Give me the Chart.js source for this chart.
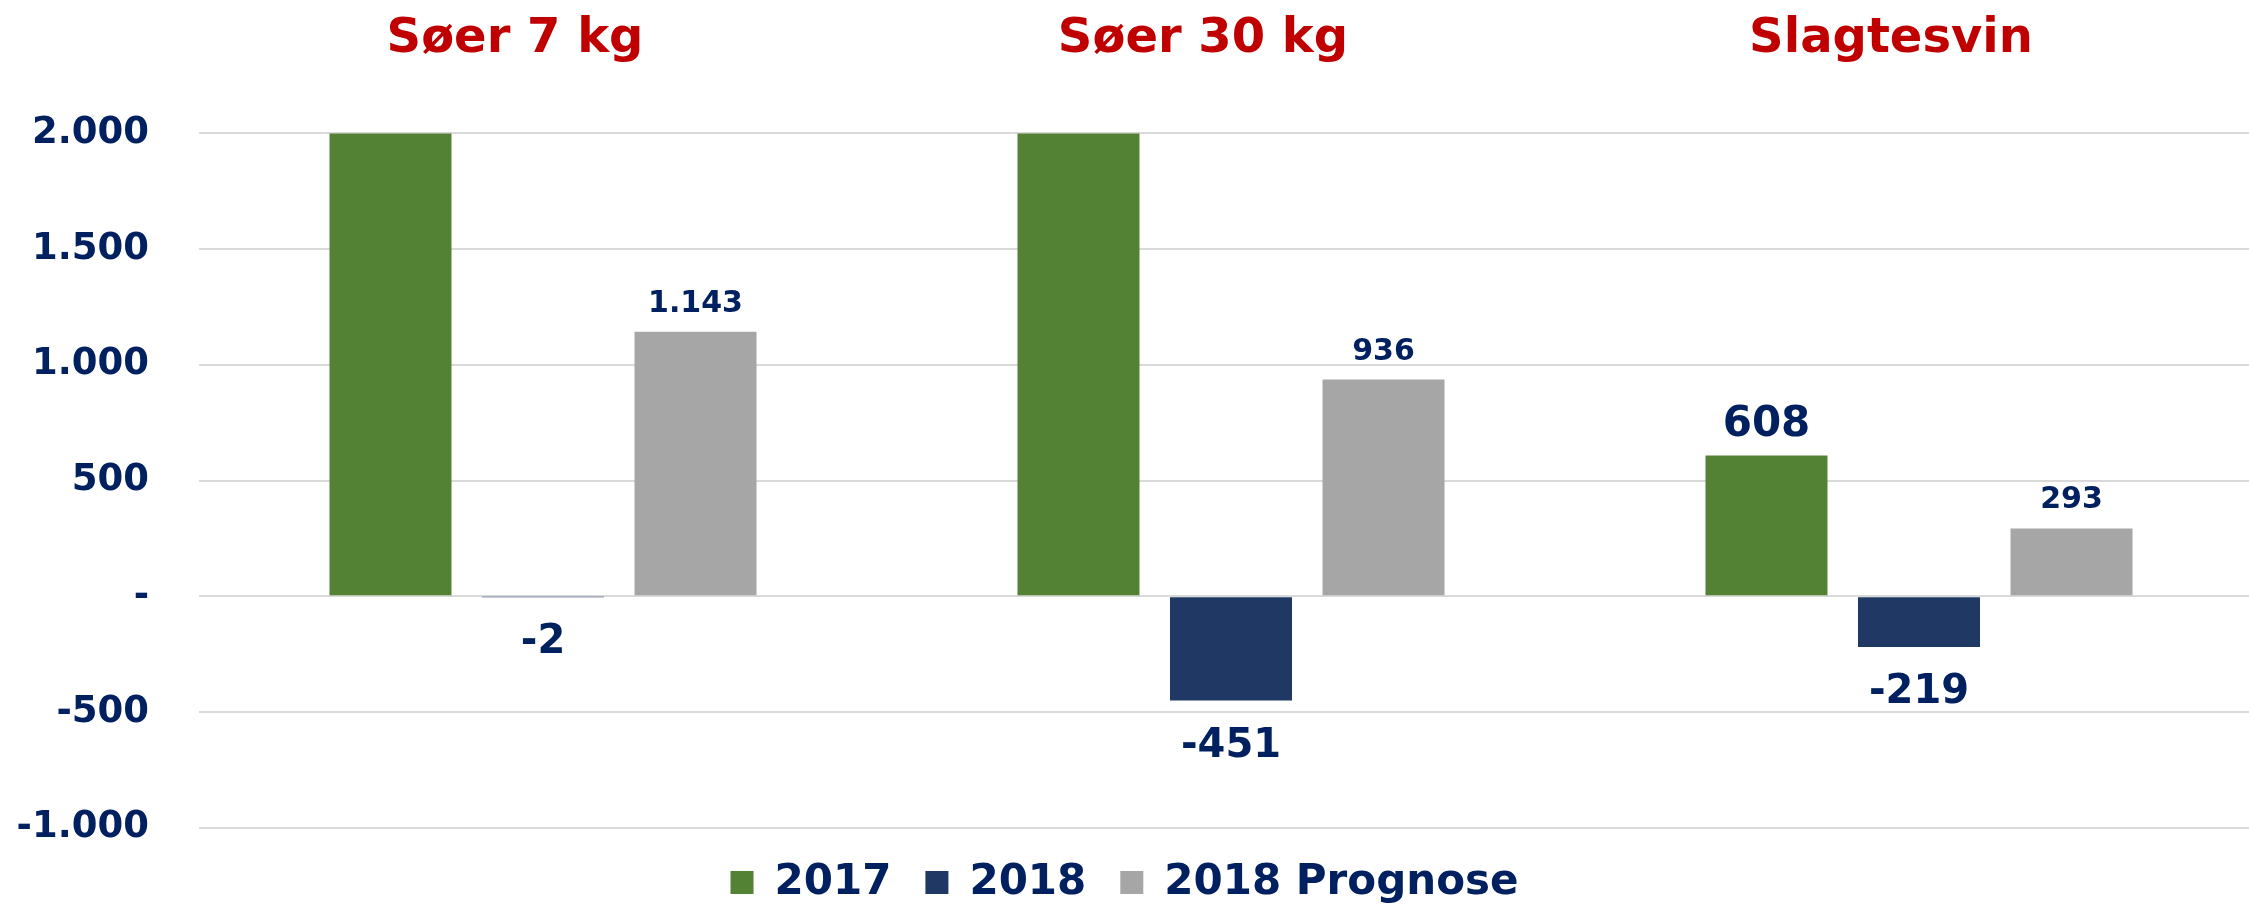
<!DOCTYPE html>
<html>
<head>
<meta charset="utf-8">
<script src="https://cdn.jsdelivr.net/npm/chart.js@4/dist/chart.umd.min.js"></script>
<style>
  html, body { margin: 0; padding: 0; background: #ffffff; overflow: hidden; }
  #wrap { width: 2249px; height: 905px; }
</style>
</head>
<body>
<div id="wrap"><canvas id="c" width="2249" height="905"></canvas></div>
<script>
// ---- Data ----
const categories = ['Søer 7 kg', 'Søer 30 kg', 'Slagtesvin'];
const seriesNames = ['2017', '2018', '2018 Prognose'];
const values2017 = [2500, 2400, 608];       // first two exceed the 2.000 axis max (clipped in the original)
const values2018 = [-2, -451, -219];
const valuesPrognose = [1143, 936, 293];
const yTickValues = [2000, 1500, 1000, 500, 0, -500, -1000];
const yTickLabels = ['2.000', '1.500', '1.000', '500', '-', '-500', '-1.000'];

// ---- Styling ----
const NAVY_TEXT = '#002060';
const colors = ['#548235', '#203864', '#a6a6a6'];
const labelSizes = [42, 40, 30];
const FONT = '"DejaVu Sans", Verdana, sans-serif';

function fmtDa(v) {
  const s = Math.abs(v).toString().replace(/\B(?=(\d{3})+(?!\d))/g, '.');
  return (v < 0 ? '-' : '') + s;
}

// The original category axis runs slightly past the right edge of the picture.
const extendCategoryAxis = {
  id: 'extendCategoryAxis',
  afterLayout(chart) {
    const s = chart.scales.x;
    s.right += 14;
    s.width = s.right - s.left;
    s.configure();
  }
};

const valueLabels = {
  id: 'valueLabels',
  afterDatasetsDraw(chart) {
    const ctx = chart.ctx;
    const yScale = chart.scales.y;
    chart.data.datasets.forEach((ds, i) => {
      const meta = chart.getDatasetMeta(i);
      if (meta.hidden) return;
      meta.data.forEach((bar, j) => {
        const v = ds.data[j];
        if (v > yScale.max || v < yScale.min) return;
        ctx.save();
        ctx.font = 'bold ' + labelSizes[i] + 'px ' + FONT;
        ctx.fillStyle = NAVY_TEXT;
        ctx.textAlign = 'center';
        ctx.textBaseline = 'alphabetic';
        const y = v >= 0 ? bar.y - 20 : bar.y + 56;
        ctx.fillText(fmtDa(v), bar.x, y);
        ctx.restore();
      });
    });
  }
};

const seriesValues = [values2017, values2018, valuesPrognose];

new Chart(document.getElementById('c'), {
  type: 'bar',
  data: {
    labels: categories,
    datasets: seriesNames.map((name, i) => ({
      label: name,
      data: seriesValues[i],
      backgroundColor: colors[i],
      borderWidth: 0,
      barPercentage: 0.8,
      categoryPercentage: 0.665
    }))
  },
  options: {
    responsive: false,
    devicePixelRatio: 1,
    animation: false,
    layout: { padding: { top: 0, left: 0, right: 0, bottom: -8.6 } },
    plugins: {
      tooltip: { enabled: false },
      title: { display: false },
      legend: {
        position: 'bottom',
        labels: {
          boxWidth: 23,
          boxHeight: 23,
          padding: 34,
          color: NAVY_TEXT,
          font: { family: FONT, size: 42, weight: 'bold' }
        }
      }
    },
    scales: {
      x: {
        position: 'top',
        grid: { display: false, drawTicks: false },
        border: { display: false },
        ticks: {
          color: '#c00000',
          font: { family: FONT, size: 48, weight: 'bold' },
          padding: 65,
          labelOffset: -28,
          maxRotation: 0,
          autoSkip: false
        },
        afterFit(scale) { scale.height = 133.4; }
      },
      y: {
        min: -1000,
        max: 2000,
        afterBuildTicks(scale) { scale.ticks = yTickValues.map(v => ({ value: v })); },
        grid: { color: '#d9d9d9', lineWidth: 2, drawTicks: false },
        border: { display: false },
        ticks: {
          color: NAVY_TEXT,
          font: { family: FONT, size: 37, weight: 'bold' },
          padding: 50,
          callback(v) {
            const k = yTickValues.indexOf(v);
            return k >= 0 ? yTickLabels[k] : '';
          }
        },
        afterFit(scale) { scale.width = 199; }
      }
    }
  },
  plugins: [extendCategoryAxis, valueLabels]
});
</script>
</body>
</html>
